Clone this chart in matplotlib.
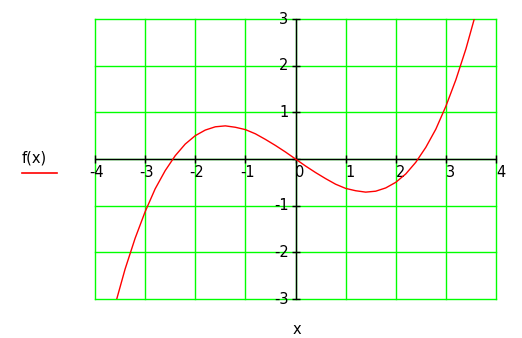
import matplotlib
matplotlib.use("Agg")
import matplotlib.pyplot as plt

# curve samples (x, f(x))
x_vals = [-3.6, -3.4, -3.2, -3.0, -2.8, -2.6, -2.4, -2.2, -2.0, -1.8, -1.6, -1.4,
          -1.2, -1.0, -0.8, -0.6, -0.4, -0.2, 0.0, 0.2, 0.4, 0.6, 0.8, 1.0,
          1.2, 1.4, 1.6, 1.8, 2.0, 2.2, 2.4, 2.6, 2.8, 3.0, 3.2, 3.4, 3.6]
f_vals = [-3.13, -2.36, -1.70, -1.13, -0.64, -0.25, 0.07, 0.32, 0.50, 0.62, 0.69, 0.71,
          0.68, 0.63, 0.54, 0.42, 0.29, 0.15, 0.0, -0.15, -0.29, -0.42, -0.54, -0.63,
          -0.68, -0.71, -0.69, -0.62, -0.50, -0.32, -0.07, 0.25, 0.64, 1.13, 1.70, 2.36, 3.13]

x_ticks = [-4, -3, -2, -1, 0, 1, 2, 3, 4]
y_ticks = [-3, -2, -1, 0, 1, 2, 3]
x_tick_labels = ["-4", "-3", "-2", "-1", "0", "1", "2", "3", "4"]
y_tick_labels = ["-3", "-2", "-1", "", "1", "2", "3"]

GREEN = "#00ff00"
RED = "#ff0000"
FS = 10.5

fig = plt.figure(figsize=(5.22, 3.38), dpi=100)
ax = fig.add_axes([95 / 522, 1 - 299 / 338, 401 / 522, 280 / 338])
ax.set_xlim(-4, 4)
ax.set_ylim(-3, 3)
for s in ax.spines.values():
    s.set_visible(False)
ax.set_xticks([])
ax.set_yticks([])

# green grid including the frame
for xt in x_ticks:
    ax.axvline(xt, color=GREEN, lw=1.0, clip_on=False, zorder=1)
for yt in y_ticks:
    ax.axhline(yt, color=GREEN, lw=1.0, clip_on=False, zorder=1)

# black axes through the origin with small ticks
ax.axhline(0, color="black", lw=1.0, zorder=2)
ax.axvline(0, color="black", lw=1.0, zorder=2)
ax.plot(x_ticks, [0] * len(x_ticks), "|", color="black", ms=6, mew=1.0, zorder=2, clip_on=False)
ax.plot([0] * len(y_ticks), y_ticks, "_", color="black", ms=6, mew=1.0, zorder=2, clip_on=False)

for xt, lab in zip(x_ticks, x_tick_labels):
    dx = -4 if lab.startswith("-") else 0
    ax.annotate(lab, (xt, 0), xytext=(dx, -4), textcoords="offset points",
                ha="left", va="top", fontsize=FS)
for yt, lab in zip(y_ticks, y_tick_labels):
    if lab:
        ax.annotate(lab, (0, yt), xytext=(-5, 0), textcoords="offset points",
                    ha="right", va="center", fontsize=FS)

ax.plot(x_vals, f_vals, color=RED, lw=1, zorder=3)

# legend and axis label
fig.text(34 / 522, 1 - 158 / 338, "f(x)", ha="center", va="center", fontsize=FS)
fig.add_artist(plt.Line2D([22 / 522, 57 / 522], [1 - 173 / 338] * 2, color=RED, lw=1.2))
fig.text(297 / 522, 1 - 330 / 338, "x", ha="center", va="center", fontsize=FS)

fig.savefig("out.png", dpi=100)
